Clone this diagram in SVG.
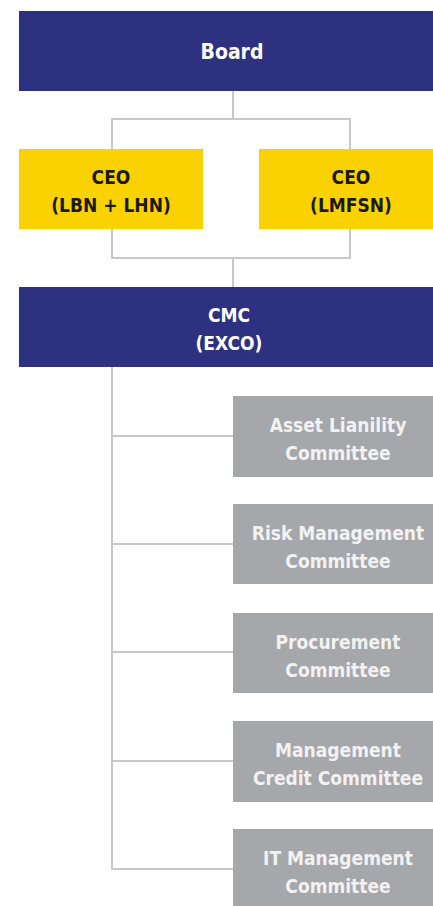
<svg xmlns="http://www.w3.org/2000/svg" width="433" height="906" viewBox="0 0 433 906">
<style>
.navy{fill:#2e3080}
.yellow{fill:#fad201}
.gray{fill:#a6a7aa}
text{font-family:"DejaVu Sans Condensed","DejaVu Sans",sans-serif;font-stretch:condensed;font-weight:bold;text-anchor:middle}
.w{fill:#ffffff;font-size:19px}
.b{fill:#1a1a1a;font-size:19px}
.g{fill:#f2f2f2;font-size:19px}
.ln{fill:none;stroke:#c8c8c8;stroke-width:2}
</style>
<rect width="433" height="906" fill="#ffffff"/>
<g id="connectors">
<path class="ln" d="M233,91 V119 M112,149 V119 H350 V149"/>
<path class="ln" d="M112,229 V258 H350 V229 M233,258 V287"/>
<path class="ln" d="M112,367 V869 H233 M112,436 H233 M112,544 H233 M112,652 H233 M112,761 H233"/>
</g>
<g id="board">
<rect class="navy" x="19" y="11" width="414" height="80"/>
<text class="w" x="232" y="59" style="font-size:21px">Board</text>
</g>
<g id="ceo1">
<rect class="yellow" x="19" y="149" width="184" height="80"/>
<text class="b" x="111" y="184">CEO</text>
<text class="b" x="111" y="212">(LBN + LHN)</text>
</g>
<g id="ceo2">
<rect class="yellow" x="259" y="149" width="174" height="80"/>
<text class="b" x="351" y="184">CEO</text>
<text class="b" x="351" y="212">(LMFSN)</text>
</g>
<g id="cmc">
<rect class="navy" x="19" y="287" width="414" height="80"/>
<text class="w" x="229" y="322">CMC</text>
<text class="w" x="229" y="350">(EXCO)</text>
</g>
<g id="alco">
<rect class="gray" x="233" y="396" width="200" height="81"/>
<text class="g" x="338" y="432">Asset Lianility</text>
<text class="g" x="338" y="460">Committee</text>
</g>
<g id="rmc">
<rect class="gray" x="233" y="504" width="200" height="80"/>
<text class="g" x="338" y="540">Risk Management</text>
<text class="g" x="338" y="568">Committee</text>
</g>
<g id="proc">
<rect class="gray" x="233" y="613" width="200" height="80"/>
<text class="g" x="338" y="649">Procurement</text>
<text class="g" x="338" y="677">Committee</text>
</g>
<g id="mcc">
<rect class="gray" x="233" y="721" width="200" height="81"/>
<text class="g" x="338" y="757">Management</text>
<text class="g" x="338" y="785">Credit Committee</text>
</g>
<g id="itmc">
<rect class="gray" x="233" y="829" width="200" height="80"/>
<text class="g" x="338" y="865">IT Management</text>
<text class="g" x="338" y="893">Committee</text>
</g>
</svg>
